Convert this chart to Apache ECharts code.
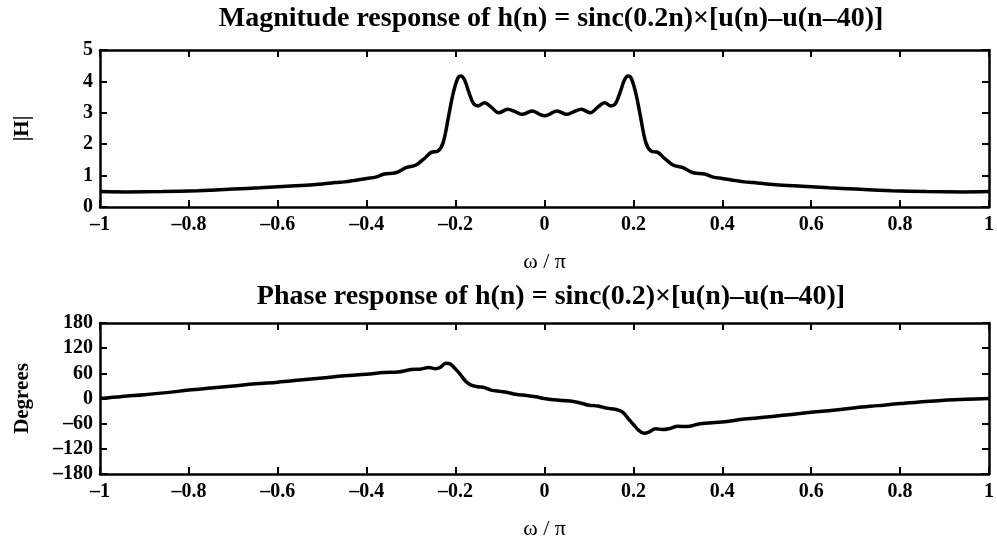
<!DOCTYPE html>
<html>
<head>
<meta charset="utf-8">
<script src="https://cdn.jsdelivr.net/npm/echarts@6/dist/echarts.min.js"></script>
<style>
html,body{margin:0;padding:0;background:#fff;}
#chart{width:997px;height:541px;}
</style>
</head>
<body>
<div id="chart"></div>
<script>
// ---- Data ----
const magTitle = 'Magnitude response of h(n) = sinc(0.2n)\u00d7[u(n)\u2013u(n\u201340)]';
const phaseTitle = 'Phase response of h(n) = sinc(0.2)\u00d7[u(n)\u2013u(n\u201340)]';
const xTicks = [-1, -0.8, -0.6, -0.4, -0.2, 0, 0.2, 0.4, 0.6, 0.8, 1];
const magTicks = [0, 1, 2, 3, 4, 5];
const phaseTicks = [-180, -120, -60, 0, 60, 120, 180];

// magnitude |H| vs omega/pi
const magW = [-1.00, -0.94, -0.86, -0.78, -0.70, -0.64, -0.58, -0.52, -0.47, -0.45, -0.43, -0.40, -0.38, -0.36, -0.335,
  -0.31, -0.29, -0.27, -0.255, -0.24, -0.228, -0.215, -0.205, -0.195, -0.188, -0.180, -0.170, -0.160, -0.150,
  -0.135, -0.120, -0.103, -0.083, -0.065, -0.050, -0.028, -0.012, 0.000, 0.012, 0.028, 0.050, 0.065, 0.083,
  0.103, 0.120, 0.135, 0.150, 0.160, 0.170, 0.180, 0.188, 0.195, 0.205, 0.215, 0.228, 0.24, 0.255, 0.27, 0.29,
  0.31, 0.335, 0.36, 0.38, 0.40, 0.43, 0.45, 0.47, 0.52, 0.58, 0.64, 0.70, 0.78, 0.86, 0.94, 1.00];
const magH = [0.49, 0.48, 0.49, 0.52, 0.57, 0.61, 0.66, 0.71, 0.78, 0.80, 0.84, 0.91, 0.95, 1.05, 1.09,
  1.26, 1.33, 1.55, 1.74, 1.78, 2.05, 2.95, 3.65, 4.10, 4.17, 4.05, 3.65, 3.30, 3.22,
  3.32, 3.18, 3.00, 3.11, 3.03, 2.95, 3.06, 2.96, 2.91, 2.96, 3.06, 2.95, 3.03, 3.11,
  3.00, 3.18, 3.32, 3.22, 3.30, 3.65, 4.05, 4.17, 4.10, 3.65, 2.95, 2.05, 1.78, 1.74, 1.55, 1.33,
  1.26, 1.09, 1.05, 0.95, 0.91, 0.84, 0.80, 0.78, 0.71, 0.66, 0.61, 0.57, 0.52, 0.49, 0.48, 0.49];

// phase in degrees vs omega/pi
const phaseW = [-1.00, -0.95, -0.90, -0.85, -0.80, -0.75, -0.70, -0.65, -0.60, -0.55, -0.50, -0.45, -0.40, -0.36,
  -0.33, -0.30, -0.28, -0.26, -0.245, -0.235, -0.222, -0.212, -0.200, -0.190, -0.178, -0.165, -0.150, -0.135,
  -0.12, -0.10, -0.085, -0.065, -0.04, -0.02, 0.00, 0.02, 0.04, 0.065, 0.085, 0.10, 0.12, 0.14, 0.16, 0.175,
  0.19, 0.20, 0.212, 0.224, 0.235, 0.25, 0.265, 0.28, 0.30, 0.32, 0.35, 0.40, 0.45, 0.50, 0.55, 0.60, 0.65,
  0.70, 0.75, 0.80, 0.85, 0.90, 0.95, 1.00];
const phaseDeg = [0, 5, 9, 14, 20, 25, 30, 35, 39, 44, 49, 54, 58, 62,
  63, 69, 70, 74, 71, 74, 84, 82, 70, 58, 42, 32, 28, 26,
  20, 17, 15, 10, 7, 4, 0, -3, -5, -7, -12, -16, -18, -23, -26, -32,
  -50, -62, -76, -83, -80, -72, -74, -72, -66, -67, -60, -56, -49, -44, -39, -33, -28,
  -22, -17, -12, -8, -4, -2, 0];

// ---- Chart ----
const FONT = '"Liberation Serif", "Times New Roman", serif';
const fmt = v => {
  const r = Math.round(v * 100) / 100;
  return String(r).replace('-', '\u2013');
};
const tickLabel = { fontFamily: FONT, fontWeight: 'bold', fontSize: 20, color: '#000' };

function xAxes(gridIndex) {
  return [
    { type: 'value', gridIndex, min: -1, max: 1, interval: 0.2, position: 'bottom',
      axisLine: { show: true, onZero: false, lineStyle: { color: '#000', width: 2.5 } },
      axisTick: { show: true, inside: true, length: 7, lineStyle: { color: '#000', width: 2 } },
      axisLabel: Object.assign({ margin: 8, formatter: fmt }, tickLabel),
      splitLine: { show: false },
      name: '\u03c9 / \u03c0', nameLocation: 'middle', nameGap: 44,
      nameTextStyle: { fontFamily: FONT, fontSize: 22, color: '#000' } },
    { type: 'value', gridIndex, min: -1, max: 1, interval: 0.2, position: 'top',
      axisLine: { show: true, onZero: false, lineStyle: { color: '#000', width: 2.5 } },
      axisTick: { show: true, inside: true, length: 7, lineStyle: { color: '#000', width: 2 } },
      axisLabel: { show: false }, splitLine: { show: false } }
  ];
}
function yAxes(gridIndex, min, max, interval, name) {
  return [
    { type: 'value', gridIndex, min, max, interval, position: 'left',
      axisLine: { show: true, onZero: false, lineStyle: { color: '#000', width: 2.5 } },
      axisTick: { show: true, inside: true, length: 7, lineStyle: { color: '#000', width: 2 } },
      axisLabel: Object.assign({ margin: 7, formatter: fmt }, tickLabel),
      splitLine: { show: false },
      name, nameLocation: 'middle', nameGap: 67, nameRotate: 90,
      nameTextStyle: { fontFamily: FONT, fontWeight: 'bold', fontSize: 21, color: '#000' } },
    { type: 'value', gridIndex, min, max, interval, position: 'right',
      axisLine: { show: true, onZero: false, lineStyle: { color: '#000', width: 2.5 } },
      axisTick: { show: true, inside: true, length: 7, lineStyle: { color: '#000', width: 2 } },
      axisLabel: { show: false }, splitLine: { show: false } }
  ];
}

const magData = magW.map((w, i) => [w, magH[i]]);
const phaseData = phaseW.map((w, i) => [w, phaseDeg[i]]);

const chart = echarts.init(document.getElementById('chart'), null, { renderer: 'canvas' });
chart.setOption({
  backgroundColor: '#fff',
  animation: false,
  title: [
    { text: magTitle, left: 546, top: 0, textAlign: 'center',
      textStyle: { fontFamily: FONT, fontWeight: 'bold', fontSize: 28, color: '#000' } },
    { text: phaseTitle, left: 546, top: 278, textAlign: 'center',
      textStyle: { fontFamily: FONT, fontWeight: 'bold', fontSize: 28, color: '#000' } }
  ],
  grid: [
    { left: 100, top: 50, width: 892, height: 157, containLabel: false },
    { left: 100, top: 323, width: 892, height: 157, containLabel: false }
  ],
  xAxis: [...xAxes(0), ...xAxes(1)],
  yAxis: [...yAxes(0, 0, 5, 1, '|H|'), ...yAxes(1, -180, 180, 60, 'Degrees')],
  series: [
    { type: 'line', xAxisIndex: 0, yAxisIndex: 0, data: magData, showSymbol: false, smooth: 0.35,
      lineStyle: { color: '#000', width: 3.5 }, clip: true },
    { type: 'line', xAxisIndex: 2, yAxisIndex: 2, data: phaseData, showSymbol: false, smooth: 0.35,
      lineStyle: { color: '#000', width: 3.5 }, clip: true }
  ]
});
</script>
</body>
</html>
